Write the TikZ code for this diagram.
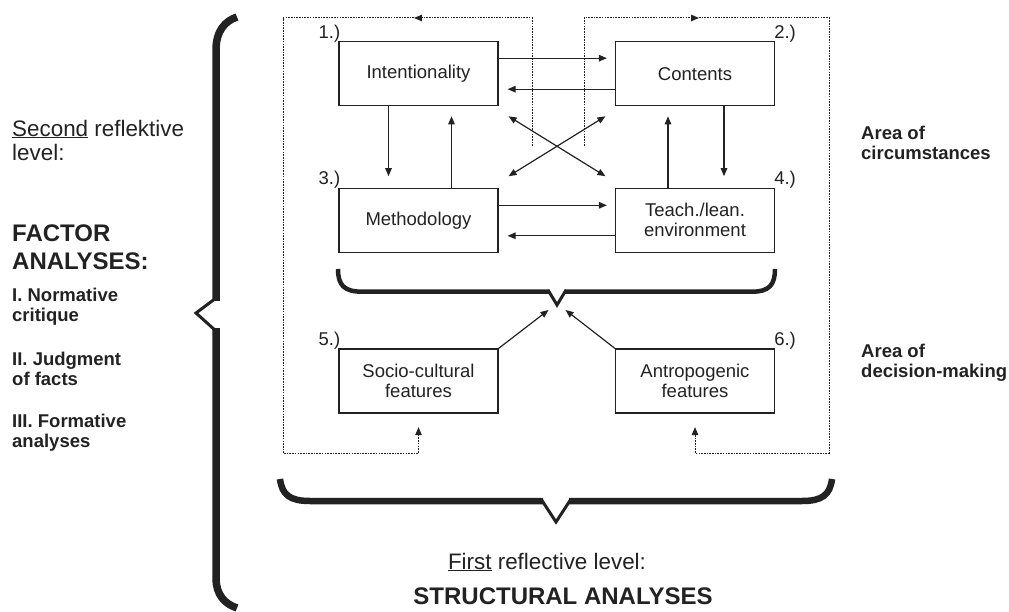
\documentclass[tikz,border=0pt]{standalone}
\usepackage{fontspec}
\setmainfont{Liberation Sans}
\usetikzlibrary{arrows.meta}
\definecolor{ink}{HTML}{222222}
\begin{document}
\begin{tikzpicture}[x=1pt,y=-1pt, color=ink,
  box/.style={draw, line width=1.2pt, minimum width=159pt, minimum height=64pt, inner sep=0pt, align=center, font=\fontsize{18.5}{20}\selectfont},
  num/.style={font=\fontsize{18.5}{20}\selectfont, inner sep=0pt},
  tip/.tip={Triangle[length=8pt,width=6.5pt]},
  arr/.style={line width=1.2pt, -tip},
  darr/.style={line width=1.2pt, tip-tip},
  dots/.style={line width=1pt, dash pattern=on 1.6pt off 1.1pt},
  darrow/.style={dots, -tip},
  thickbrace/.style={line width=7.5pt, line cap=butt},
  botbrace/.style={line width=6.5pt, line cap=butt},
  midbrace/.style={line width=4.5pt, line cap=butt},
  vbrace/.style={line width=3pt, line join=miter},
  lefttext/.style={anchor=west, align=left, inner sep=0pt},
  regbig/.style={font=\fontsize{22.4}{24}\selectfont},
  boldbig/.style={font=\fontsize{24}{28}\selectfont\bfseries},
  boldsmall/.style={font=\fontsize{18.5}{20}\selectfont\bfseries}
]
\useasboundingbox (0,0) rectangle (1009,612);

% boxes
\node[box] (b1) at (418.5,73.7) {Intentionality};
\node[box] (b2) at (695,73.7) {Contents};
\node[box] (b3) at (418.5,220.3) {Methodology};
\node[box] (b4) at (695,220.3) {Teach./lean.\\environment};
\node[box] (b5) at (418.5,381) {Socio-cultural\\features};
\node[box] (b6) at (695,381) {Antropogenic\\features};

% numbers
\node[num, anchor=base east, xshift=2pt, yshift=3pt] (n1) at (b1.north west) {1.)};
\node[num, anchor=base west, xshift=-1pt, yshift=3pt] (n2) at (b2.north east) {2.)};
\node[num, anchor=base east, xshift=2pt, yshift=3pt] (n3) at (b3.north west) {3.)};
\node[num, anchor=base west, xshift=-1pt, yshift=3pt] (n4) at (b4.north east) {4.)};
\node[num, anchor=base east, xshift=2pt, yshift=3pt] (n5) at (b5.north west) {5.)};
\node[num, anchor=base west, xshift=-1pt, yshift=3pt] (n6) at (b6.north east) {6.)};

% horizontal arrows
\draw[arr] ([yshift=15.5pt]b1.east) -- ([yshift=15.5pt,xshift=-8pt]b2.west);
\draw[arr] ([yshift=-15.5pt]b2.west) -- ([yshift=-15.5pt,xshift=9pt]b1.east);
\draw[arr] ([yshift=15pt]b3.east) -- ([yshift=15pt,xshift=-8pt]b4.west);
\draw[arr] ([yshift=-15.5pt]b4.west) -- ([yshift=-15.5pt,xshift=9pt]b3.east);
% vertical arrows
\draw[arr] ([xshift=-30pt]b1.south) -- ([xshift=-30pt,yshift=11.5pt]b3.north);
\draw[arr] ([xshift=33pt]b3.north) -- ([xshift=33pt,yshift=-10pt]b1.south);
\draw[arr] ([xshift=29pt]b2.south) -- ([xshift=29pt,yshift=11.5pt]b4.north);
\draw[arr] ([xshift=-27pt]b4.north) -- ([xshift=-27pt,yshift=-10pt]b2.south);
% diagonal arrows
\draw[darr] ([xshift=10pt,yshift=-10pt]b1.south east) -- ([xshift=-9.5pt,yshift=11.5pt]b4.north west);
\draw[darr] ([xshift=10pt,yshift=11.5pt]b3.north east) -- ([xshift=-9.5pt,yshift=-10pt]b2.south west);

% dotted feedback loops
\coordinate (ls) at (532,146);
\coordinate (lm) at (414,18);
\coordinate (rs) at (584,146);
\coordinate (rm) at (699,18);
\draw[darrow] (ls) |- (lm);
\draw[darrow] (lm) -- (283,18) -- (283,453) -| ([yshift=-13.5pt]b5.south);
\draw[darrow] (rs) |- (rm);
\draw[darrow] (rm) -- (829,18) -- (829,453) -| ([yshift=-13.5pt]b6.south);

% middle brace
\coordinate (mt) at (557,305);
\draw[midbrace] (338,269) .. controls (338,285) and (344,291.7) .. (362,291.7) -- (549,291.7);
\draw[midbrace] (565,291.7) -- (752,291.7) .. controls (769,291.7) and (775,285) .. (775,269);
\draw[vbrace] (548,290) -- (mt) -- (566,290);
\draw[arr] (b5.north east) -- (548.5,310);
\draw[arr] (b6.north west) -- (565.5,310);

% bottom brace
\coordinate (bt) at (556,522);
\draw[botbrace] (280,479) .. controls (282,495) and (290,501) .. (310,501) -- (543,501);
\draw[botbrace] (569,501) -- (802,501) .. controls (822,501) and (830,495) .. (832,479);
\draw[vbrace] (541,499) -- (bt) -- (571,499);

% left brace
\draw[thickbrace] (237,17) .. controls (225,21) and (216,31) .. (216,50) -- (216,301);
\draw[thickbrace] (216,328) -- (216,578) .. controls (216,595) and (225,604) .. (237,608);
\draw[line width=3pt, line join=miter] (216,298) -- (196,313) -- (216,331);

% left texts
\node[lefttext, regbig] (t1) at (12,140) {\underline{Second} reflektive\\level:};
\node[lefttext, boldbig] (t2) at (12,247.5) {FACTOR\\ANALYSES:};
\node[lefttext, boldsmall] (t3) at (12,306.5) {I. Normative\\critique};
\node[lefttext, boldsmall] (t4) at (12,369) {II. Judgment\\of facts};
\node[lefttext, boldsmall] (t5) at (12,432.5) {III. Formative\\analyses};

% right texts
\node[lefttext, boldsmall] (t6) at (861,142.5) {Area of\\circumstances};
\node[lefttext, boldsmall] (t7) at (861,362.5) {Area of\\decision-making};

% bottom texts
\node[regbig, inner sep=0pt] (t8) at (547,562) {\underline{First} reflective level:};
\node[boldbig, inner sep=0pt] (t9) at (563,596) {STRUCTURAL ANALYSES};
\end{tikzpicture}
\end{document}
